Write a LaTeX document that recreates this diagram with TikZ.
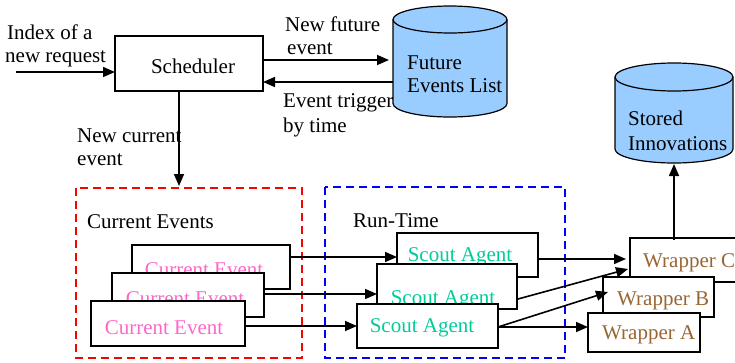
\documentclass[tikz,border=0pt]{standalone}
\usepackage{fontspec}
\setmainfont{Liberation Serif}
\usetikzlibrary{arrows.meta}
\definecolor{cylblue}{RGB}{153,204,255}
\definecolor{cepink}{RGB}{255,102,204}
\definecolor{scteal}{RGB}{0,204,153}
\definecolor{wrbrown}{RGB}{153,102,51}
\tikzset{
  box/.style={draw=black,line width=1.3pt,fill=white},
  arr/.style={line width=1.6pt,-{Triangle[length=12pt,width=10pt]}},
  lbl/.style={anchor=base west,inner sep=0pt,font=\fontsize{21}{25}\selectfont},
  ctext/.style={anchor=base,inner sep=0pt,font=\fontsize{21}{25}\selectfont},
  cyl/.style={draw=black,line width=1.2pt,fill=cylblue},
  dbox/.style={line width=1.8pt,dash pattern=on 8pt off 5pt},
}
\begin{document}
\begin{tikzpicture}[x=1pt,y=-1pt]
\useasboundingbox (0,0) rectangle (735,362);
\clip (0,0) rectangle (735,362);
% Scheduler
\draw[box] (115,36) rectangle (263,91);
\node[ctext] (sch) at (193,73) {Scheduler};
\coordinate (schL) at (115,72);
\coordinate (inS) at (16,72);
\draw[arr] (inS) -- (schL);
\node[lbl] (idx1) at (7,39) {Index of a};
\node[lbl] (idx2) at (5,62) {new request};
% Future events list cylinder
\draw[cyl] (393,19.5) -- (393,103.5) arc[start angle=180,end angle=0,x radius=57,y radius=13.5] -- (507,19.5);
\draw[cyl] (450,19.5) ellipse[x radius=57,y radius=13.5];
\node[lbl] (fel1) at (407,69) {Future};
\node[lbl] (fel2) at (407,92) {Events List};
\coordinate (schR1) at (263,60);
\coordinate (felL1) at (389,60);
\coordinate (felL2) at (393,82);
\coordinate (schR2) at (263,82);
\draw[arr] (schR1) -- (felL1);
\draw[arr] (felL2) -- (schR2);
\node[lbl] (nf1) at (285,31) {New future};
\node[lbl] (nf2) at (287,54) {event};
\node[lbl] (et1) at (283,107) {Event trigger};
\node[lbl] (et2) at (283,132) {by time};
% Stored innovations cylinder
\draw[cyl] (615,77) -- (615,149) arc[start angle=180,end angle=0,x radius=59,y radius=14] -- (733,77);
\draw[cyl] (674,77) ellipse[x radius=59,y radius=14];
\node[lbl] (si1) at (628,125) {Stored};
\node[lbl] (si2) at (628,150) {Innovations};
% New current event
\coordinate (schB) at (179,91);
\coordinate (ceTop) at (179,186);
\draw[arr] (schB) -- (ceTop);
\node[lbl] (nc1) at (77,142) {New current};
\node[lbl] (nc2) at (77,165) {event};
% Dashed groups
\draw[dbox,draw=red] (76,188) rectangle (302,358);
\draw[dbox,draw=blue] (325,187) rectangle (565,358);
\node[lbl] (cet) at (87,228) {Current Events};
\node[lbl] (rt) at (353,227) {Run-Time};
% Current event boxes
\draw[box] (132,245) rectangle (290,289);
\node[ctext,text=cepink] (ce3) at (204,276) {Current Event};
\draw[box] (112,273) rectangle (264,317);
\node[ctext,text=cepink] (ce2) at (185,305) {Current Event};
\draw[box] (91,301) rectangle (245,346);
\node[ctext,text=cepink] (ce1) at (164,334) {Current Event};
% Scout agent boxes
\draw[box] (397,233) rectangle (538,277);
\node[ctext,text=scteal] (sa3) at (460,261) {Scout Agent};
\draw[box] (377,264) rectangle (517,309);
\node[ctext,text=scteal] (sa2) at (443,304) {Scout Agent};
\draw[box] (357,304) rectangle (498,348);
\node[ctext,text=scteal] (sa1) at (422,332) {Scout Agent};
% Wrapper boxes
\draw[box] (630,238) rectangle (750,282);
\node[lbl,text=wrbrown] (wc) at (643,267) {Wrapper C};
\draw[box] (603,277) rectangle (714,317);
\node[lbl,text=wrbrown] (wb) at (617,305) {Wrapper B};
\draw[box] (588,313) rectangle (700,352);
\node[lbl,text=wrbrown] (wa) at (602,339) {Wrapper A};
% CE -> SA arrows
\coordinate (ce3R) at (290,257);
\coordinate (sa3L) at (397,257);
\coordinate (ce2R) at (264,294);
\coordinate (sa2L) at (377,294);
\coordinate (ce1R) at (245,326);
\coordinate (sa1L) at (357,326);
\draw[arr] (ce3R) -- (sa3L);
\draw[arr] (ce2R) -- (sa2L);
\draw[arr] (ce1R) -- (sa1L);
% SA -> wrappers
\coordinate (sa3R) at (538,259);
\coordinate (wcL1) at (626,259);
\coordinate (sa2R) at (518,299);
\coordinate (wcL2) at (628,269);
\coordinate (sa1R) at (498,327);
\coordinate (wbL) at (608,292);
\coordinate (waL) at (588,327);
\draw[arr] (sa3R) -- (wcL1);
\draw[arr] (sa2R) -- (wcL2);
\draw[arr] (sa1R) -- (wbL);
\draw[arr] (sa1R) -- (waL);
% Wrapper C -> stored innovations
\coordinate (wcT) at (674,240);
\coordinate (siB) at (674,164);
\draw[arr] (wcT) -- (siB);
\end{tikzpicture}
\end{document}
